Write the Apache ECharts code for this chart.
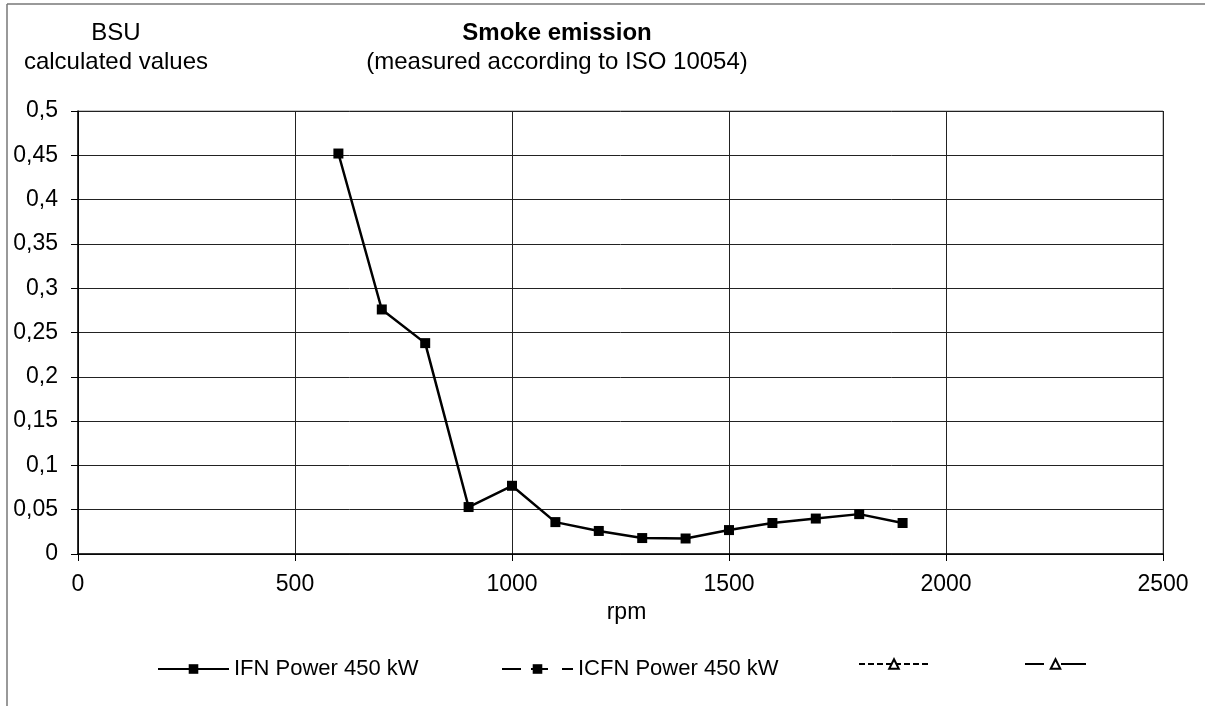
<!DOCTYPE html>
<html lang="en">
<head>
<meta charset="UTF-8">
<title>Smoke emission</title>
<style>
  html, body { margin: 0; padding: 0; background: #fff; }
  #box { width: 1205px; height: 706px; }
</style>
</head>
<body>
<div id="box"></div>
<script src="https://cdn.jsdelivr.net/npm/echarts@6/dist/echarts.min.js"></script>
<script>
// rpm steps and measured BSU values
var rpm = [600, 700, 800, 900, 1000, 1100, 1200, 1300, 1400, 1500, 1600, 1700, 1800, 1900];
var ifnPower450 = [0.452, 0.276, 0.238, 0.053, 0.077, 0.036, 0.026, 0.018, 0.0175, 0.027, 0.035, 0.040, 0.045, 0.035];
var icfnPower450 = [];   // empty in the source
var seriesNames = ['IFN Power 450 kW', 'ICFN Power 450 kW', 's3', 's4'];

var font = 'Liberation Sans, Arial, sans-serif';

var chart = echarts.init(document.getElementById('box'));

function legendAt(name, left, width, showText) {
    return {
        data: [name],
        left: left,
        top: 658,
        itemWidth: width,
        itemHeight: 12,
        itemGap: 0,
        padding: 0,
        selectedMode: false,
        formatter: function (n) { return showText ? n : ''; },
        textStyle: { fontFamily: font, fontSize: 22, color: '#000' }
    };
}

function headText(str, x, y, bold) {
    return {
        type: 'text', x: x, y: y,
        style: {
            text: str, font: (bold ? 'bold ' : '') + '24px ' + font,
            fill: '#000', align: 'center', verticalAlign: 'middle'
        }
    };
}

var option = {
    animation: false,
    textStyle: { fontFamily: font },
    grid: {
        left: 78, right: 42, top: 111, bottom: 152,
        show: true, borderColor: '#888', borderWidth: 1,
        outerBoundsMode: 'none'
    },
    graphic: [
        { type: 'line', shape: { x1: 7, y1: 4, x2: 1205, y2: 4 }, style: { stroke: '#777', lineWidth: 1.5 } },
        { type: 'line', shape: { x1: 7, y1: 4, x2: 7, y2: 706 }, style: { stroke: '#777', lineWidth: 1.5 } },
        headText('BSU', 116, 33),
        headText('calculated values', 116, 62),
        headText('Smoke emission', 557, 33, true),
        headText('(measured according to ISO 10054)', 557, 62)
    ],
    legend: [
        legendAt(seriesNames[0], 157, 71, true),
        legendAt(seriesNames[1], 501, 71, true),
        legendAt(seriesNames[2], 858, 70, false),
        legendAt(seriesNames[3], 1024, 61, false)
    ],
    xAxis: {
        type: 'value',
        min: 0, max: 2500, interval: 500,
        name: 'rpm',
        nameLocation: 'middle',
        nameGap: 46,
        nameTextStyle: { fontFamily: font, fontSize: 23, color: '#000', padding: [0, 0, 0, 12] },
        axisLine: { lineStyle: { color: '#000', width: 1.5 } },
        axisTick: { show: true, length: 7, lineStyle: { color: '#000' } },
        axisLabel: {
            margin: 19, fontSize: 23, color: '#000', fontFamily: font,
            formatter: function (v) { return String(v); }
        },
        splitLine: { show: true, lineStyle: { color: '#222', width: 1 } }
    },
    yAxis: {
        type: 'value',
        min: 0, max: 0.5, interval: 0.05,
        axisLine: { show: true, lineStyle: { color: '#000', width: 1.5 } },
        axisTick: { show: true, length: 7, lineStyle: { color: '#000' } },
        axisLabel: {
            margin: 20, fontSize: 23, color: '#000', fontFamily: font,
            formatter: function (v) { return String(+v.toFixed(2)).replace('.', ','); }
        },
        splitLine: { show: true, lineStyle: { color: '#222', width: 1 } }
    },
    series: [
        {
            name: seriesNames[0],
            type: 'line',
            data: rpm.map(function (r, i) { return [r, ifnPower450[i]]; }),
            symbol: 'rect', symbolSize: 10,
            itemStyle: { color: '#000' },
            lineStyle: { color: '#000', width: 2.5 }
        },
        {
            name: seriesNames[1],
            type: 'line',
            data: icfnPower450,
            symbol: 'rect', symbolSize: 10,
            itemStyle: { color: '#000' },
            lineStyle: { color: '#000', width: 2.5, type: [19, 10, 17, 14] }
        },
        {
            name: seriesNames[2],
            type: 'line',
            data: [],
            symbol: 'emptyTriangle', symbolSize: 7,
            itemStyle: { color: '#000', borderColor: '#000' },
            lineStyle: { color: '#000', width: 2.5, type: [6, 3] }
        },
        {
            name: seriesNames[3],
            type: 'line',
            data: [],
            symbol: 'emptyTriangle', symbolSize: 7,
            itemStyle: { color: '#000', borderColor: '#000' },
            lineStyle: { color: '#000', width: 2.5, type: [19, 17, 25, 10] }
        }
    ]
};

option && chart.setOption(option);
</script>
</body>
</html>
